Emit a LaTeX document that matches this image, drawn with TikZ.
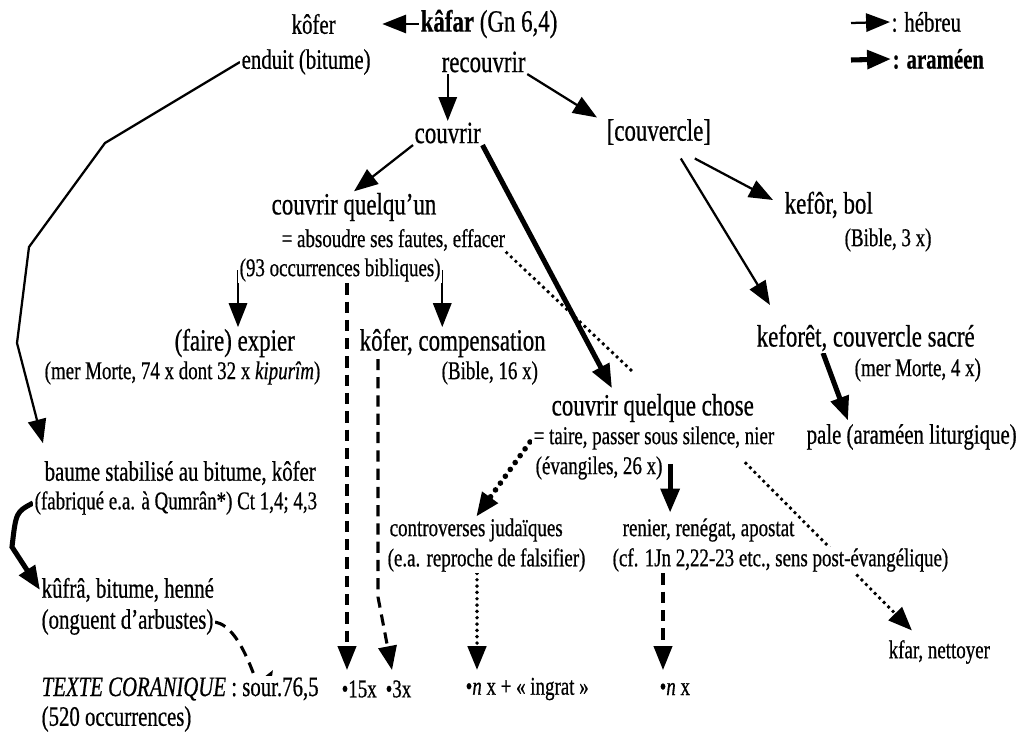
\documentclass[tikz,border=0pt]{standalone}
\usepackage{fontspec}
\setmainfont{Liberation Serif}[FakeStretch=0.74,FakeBold=0.6]
\usetikzlibrary{arrows.meta,backgrounds}
\newcommand{\gros}{\fontsize{22}{26}\selectfont}
\newcommand{\moyen}{\fontsize{20}{24}\selectfont}
\newcommand{\petit}{\fontsize{18.2}{22}\selectfont}
\begin{document}
\begin{tikzpicture}[x=0.025cm,y=-0.025cm,>={Triangle[length=17pt,width=13pt]},
  every node/.style={anchor=west,inner sep=1pt,fill=white},
  big/.style={font=\gros}, mid/.style={font=\moyen}, small/.style={font=\petit},
  fil/.style={line width=1.6pt},
  aram/.style={line width=3.6pt},
  tirets/.style={dash pattern=on 8pt off 5pt,line width=2.2pt},
  points/.style={dash pattern=on 0pt off 4.5pt,line width=2.8pt,line cap=round},
  gpoints/.style={dash pattern=on 0pt off 6pt,line width=4pt,line cap=round}]
\useasboundingbox (0,0) rectangle (1034,734);

\node[mid](kofer) at (290,24){kôfer};
\node[big](kafar) at (419,24){\textbf{kâfar} (Gn 6,4)};
\node[mid](enduit) at (240,62){enduit (bitume)};
\node[big](recouv) at (440,62){recouvrir};
\node[mid](legH) at (890,22){: hébreu};
\node[mid](legA) at (891,59){\textbf{: araméen}};

\node[big](couvrir) at (413,133){couvrir};
\node[big](couv) at (605,132){[couvercle]};
\node[big](cq) at (270,207){couvrir quelqu’un};
\node[small](absoudre) at (280,240){= absoudre ses fautes, effacer};
\node[small](occ93) at (238,270){(93 occurrences bibliques)};
\node[big](kefor) at (783,205){kefôr, bol};
\node[small](keforS) at (843,240){(Bible, 3 x)};

\node[big](expier) at (173,343){(faire) expier};
\node[small](expierS) at (43,373){(mer Morte, 74 x dont 32 x \textit{kipurîm})};
\node[big](kcomp) at (358,343){kôfer, compensation};
\node[small](kcompS) at (440,373){(Bible, 16 x)};
\node[big](keforet) at (755,338){keforêt, couvercle sacré};
\node[small](keforetS) at (853,370){(mer Morte, 4 x)};

\node[big](cqc) at (550,408){couvrir quelque chose};
\node[small](taire) at (532,438){= taire, passer sous silence, nier};
\node[small](evang) at (534,468){(évangiles, 26 x)};
\node[mid](pale) at (805,437){pale (araméen liturgique)};

\node[mid](baume) at (43,473){baume stabilisé au bitume, kôfer};
\node[small](baumeS) at (33,503){(fabriqué e.a. à Qumrân*) Ct 1,4; 4,3};
\node[small](contro) at (388,530){controverses judaïques};
\node[small](controS) at (386,560){(e.a. reproche de falsifier)};
\node[small](renier) at (621,530){renier, renégat, apostat};
\node[small](renierS) at (611,560){(cf. 1Jn 2,22-23 etc., sens post-évangélique)};
\node[mid](kufra) at (40,590){kûfrâ, bitume, henné};
\node[mid](kufraS) at (40,622){(onguent d’arbustes)};
\node[small](kfar) at (887,652){kfar, nettoyer};

\node[mid](coran) at (40,689){\textit{TEXTE CORANIQUE} : sour.76,5};
\node[mid](coranS) at (40,719){(520 occurrences)};
\node[small](b15) at (340,689){•15x};
\node[small](b3) at (384,689){•3x};
\node[small](bn) at (464,689){•\textit{n} x + « ingrat »};
\node[small](bnx) at (658,689){•\textit{n} x};

% bouts libres
\coordinate (lh) at (851,23);
\coordinate (la) at (851,60);
\coordinate (e1) at (105,143);
\coordinate (e2) at (29,247);
\coordinate (e3) at (17,343);
\coordinate (k1) at (12,547);
\coordinate (d1) at (378,597);
\coordinate (t15) at (347,670);
\coordinate (t3) at (392,670);
\coordinate (tn) at (477,670);
\coordinate (tnx) at (663,670);
\coordinate (sour) at (273,670);
\coordinate (dq) at (633,372);

\begin{scope}[on background layer]
\begin{scope}[fil]
\draw (lh) edge[->] (legH.west);
\draw[aram] (la) edge[->] (legA.west);
\draw (kafar.west) edge[->] ([shift={(45,0)}]kofer.east);

\draw (couvrir.north |- recouv.south) edge[->] (couvrir.north);
\draw (recouv.south east) edge[->] ([shift={(-8,0)}]couv.north west);
\draw (couvrir.south west) edge[->] (cq.north);
\draw[aram] (couvrir.south east) edge[->] ([shift={(62,-4)}]cqc.north west);
\draw[points] (absoudre.south east) -- (dq);
\draw ([shift={(36,12)}]couv.south) edge[->] ([shift={(-10,-5)}]kefor.west);
\draw ([shift={(22,12)}]couv.south) edge[->] ([shift={(15,-18)}]keforet.north west);
\draw[aram] ([shift={(68,0)}]keforet.south west) edge[->] ([shift={(43,-2)}]pale.north west);

\draw (occ93.west) edge[->] (occ93.west |- expier.north);
\draw (occ93.east) edge[->] (occ93.east |- kcomp.north);
\draw[tirets,->] (t15 |- occ93.south) -- (t15);
\draw[tirets,->] (d1 |- kcomp.south) -- (d1) -- (t3);

\draw[gpoints,->] ([shift={(-2,4)}]taire.west) -- (contro.north);
\draw[points,->] (tn |- controS.south) -- (tn);
\draw[aram] ([shift={(6,-4)}]evang.east) edge[->] ([shift={(6,-4)}]evang.east |- renier.north);
\draw[tirets,->] (tnx |- renierS.south) -- (tnx);
\draw[points,->] ([shift={(-30,12)}]taire.south east) -- ([shift={(25,-8)}]kfar.north west);

\draw[->] (enduit.west) -- (e1) -- (e2) -- (e3) -- ([shift={(0,-16)}]baume.north west);
\draw[aram,->] (baumeS.west) .. controls (16,512) .. (k1) -- (kufra.west);
\draw[tirets,->] (kufraS.east) to[out=-10,in=-120] (sour);
\end{scope}
\end{scope}
\end{tikzpicture}
\end{document}
